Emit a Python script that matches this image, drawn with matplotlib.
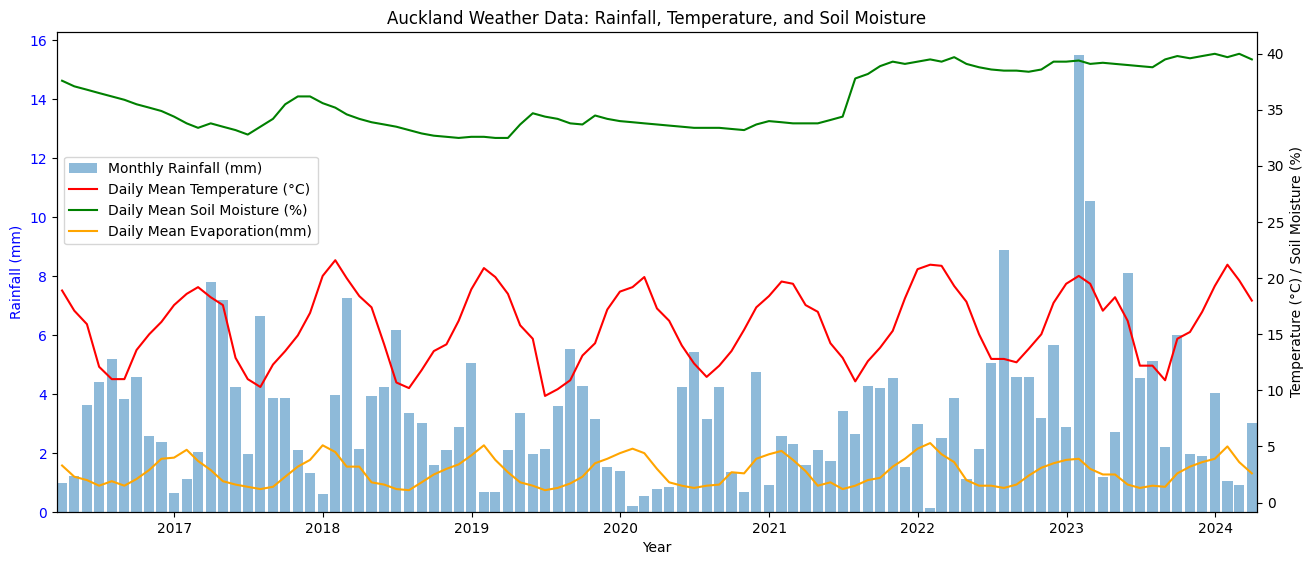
import numpy as np
import pandas as pd
import matplotlib
matplotlib.use("Agg")
import matplotlib.pyplot as plt

# month-end dates, Mar 2016 .. Mar 2024
months = pd.date_range("2016-03-31", "2024-03-31", freq="ME")

rainfall = [
    0.97, 1.23, 3.64, 4.42, 5.20, 3.84, 4.59, 2.56, 2.39, 0.63,
    1.13, 2.05, 7.81, 7.20, 4.25, 1.98, 6.66, 3.87, 3.87, 2.09, 1.31, 0.60,
    3.98, 7.27, 2.15, 3.94, 4.25, 6.18, 3.37, 3.03, 1.58, 2.09, 2.89, 5.06,
    0.69, 0.67, 2.09, 3.37, 1.95, 2.15, 3.61, 5.51, 4.28, 3.16, 1.54, 1.40,
    0.19, 0.53, 0.79, 0.86, 4.25, 5.44, 3.16, 4.25, 1.34, 0.67, 4.76, 0.90,
    2.59, 2.32, 1.61, 2.11, 1.74, 3.41, 2.66, 4.28, 4.19, 4.53, 1.51, 3.00,
    0.12, 2.52, 3.87, 1.13, 2.15, 5.06, 8.89, 4.59, 4.59, 3.20, 5.67, 2.89,
    15.50, 10.55, 1.17, 2.70, 8.11, 4.55, 5.13, 2.22, 6.01, 1.98, 1.91, 4.05,
    1.06, 0.93, 3.03,
]

temperature = [
    18.9, 17.1, 15.9, 12.1, 11.0, 11.0, 13.6, 15.0, 16.1, 17.6,
    18.6, 19.2, 18.3, 17.6, 12.9, 11.0, 10.3, 12.3, 13.5, 14.9, 16.9, 20.2,
    21.6, 20.0, 18.4, 17.4, 14.1, 10.7, 10.2, 11.8, 13.5, 14.1, 16.2, 19.0,
    20.9, 20.1, 18.6, 15.8, 14.6, 9.5, 10.1, 10.9, 13.1, 14.2, 17.2, 18.8,
    19.2, 20.1, 17.3, 16.2, 14.0, 12.4, 11.2, 12.2, 13.5, 15.4, 17.4, 18.4,
    19.7, 19.5, 17.6, 17.0, 14.2, 12.9, 10.8, 12.6, 13.8, 15.3, 18.2, 20.8,
    21.2, 21.1, 19.3, 17.9, 15.0, 12.8, 12.8, 12.5, 13.7, 15.0, 17.8, 19.5,
    20.2, 19.5, 17.1, 18.3, 16.2, 12.2, 12.2, 10.9, 14.6, 15.2, 17.0, 19.3,
    21.2, 19.8, 18.0,
]

soil_moisture = [
    37.6, 37.1, 36.8, 36.5, 36.2, 35.9, 35.5, 35.2, 34.9, 34.4,
    33.8, 33.4, 33.8, 33.5, 33.2, 32.8, 33.5, 34.2, 35.5, 36.2, 36.2, 35.6,
    35.2, 34.6, 34.2, 33.9, 33.7, 33.5, 33.2, 32.9, 32.7, 32.6, 32.5, 32.6,
    32.6, 32.5, 32.5, 33.7, 34.7, 34.4, 34.2, 33.8, 33.7, 34.5, 34.2, 34.0,
    33.9, 33.8, 33.7, 33.6, 33.5, 33.4, 33.4, 33.4, 33.3, 33.2, 33.7, 34.0,
    33.9, 33.8, 33.8, 33.8, 34.1, 34.4, 37.8, 38.2, 38.9, 39.3, 39.1, 39.3,
    39.5, 39.3, 39.7, 39.1, 38.8, 38.6, 38.5, 38.5, 38.4, 38.6, 39.3, 39.3,
    39.4, 39.1, 39.2, 39.1, 39.0, 38.9, 38.8, 39.5, 39.8, 39.6, 39.8, 40.0,
    39.7, 40.0, 39.5,
]

evaporation = [
    3.3, 2.3, 2.0, 1.5, 1.9, 1.5, 2.1, 2.9, 3.9, 4.0,
    4.7, 3.7, 2.9, 1.9, 1.6, 1.4, 1.2, 1.4, 2.3, 3.2, 3.8, 5.1,
    4.5, 3.2, 3.2, 1.8, 1.6, 1.2, 1.1, 1.8, 2.5, 3.0, 3.4, 4.2,
    5.1, 3.8, 2.7, 1.8, 1.5, 1.1, 1.3, 1.7, 2.3, 3.5, 3.9, 4.4,
    4.8, 4.4, 3.0, 1.8, 1.5, 1.3, 1.5, 1.6, 2.7, 2.6, 3.9, 4.3,
    4.6, 3.8, 2.8, 1.5, 1.8, 1.2, 1.5, 2.0, 2.2, 3.2, 3.9, 4.8,
    5.3, 4.3, 3.6, 2.0, 1.5, 1.5, 1.3, 1.6, 2.4, 3.1, 3.5, 3.8,
    3.9, 3.0, 2.5, 2.5, 1.6, 1.3, 1.5, 1.4, 2.6, 3.2, 3.6, 3.9,
    5.0, 3.6, 2.6,
]

fig, ax1 = plt.subplots(figsize=(13.13, 5.65), dpi=100)
fig.subplots_adjust(left=0.0434, right=0.9573, top=0.9434, bottom=0.0938)

bars = ax1.bar(months, rainfall, width=25, color="C0", alpha=0.5,
               label="Monthly Rainfall (mm)")
ax1.set_xlabel("Year")
ax1.set_ylabel("Rainfall (mm)", color="blue")
ax1.tick_params(axis="y", labelcolor="blue")
ax1.margins(x=0)

ax2 = ax1.twinx()
l1, = ax2.plot(months, temperature, color="red", label="Daily Mean Temperature (°C)")
l2, = ax2.plot(months, soil_moisture, color="green", label="Daily Mean Soil Moisture (%)")
l3, = ax2.plot(months, evaporation, color="orange", label="Daily Mean Evaporation(mm)")
ax2.set_ylabel("Temperature (°C) / Soil Moisture (%)")

ax1.set_title("Auckland Weather Data: Rainfall, Temperature, and Soil Moisture")

handles = [bars, l1, l2, l3]
ax1.legend(handles, [h.get_label() for h in handles],
           loc="upper left", bbox_to_anchor=(0, 0.755))

fig.savefig("out.png", dpi=100)
